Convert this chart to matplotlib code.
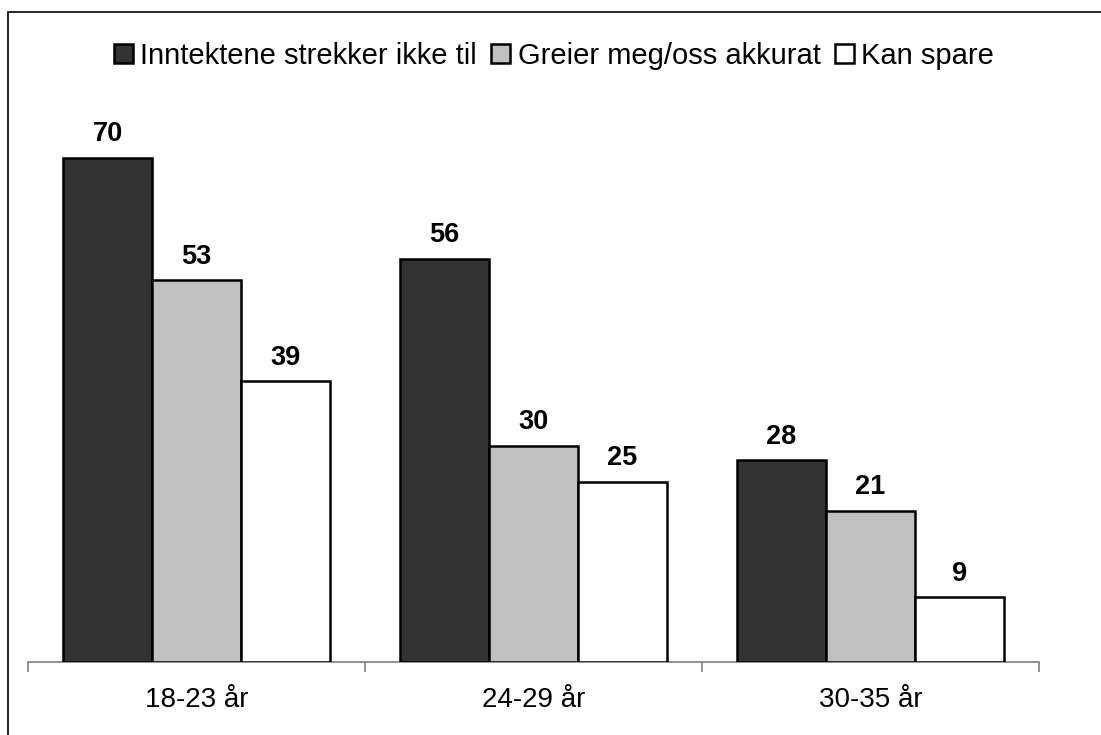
import numpy as np
import matplotlib.pyplot as plt
from matplotlib.patches import Rectangle, Patch

# =========================================================
# DATA
# =========================================================
GROUPS = ["18-23 år", "24-29 år", "30-35 år"]
SERIES = ["Inntektene strekker ikke til", "Greier meg/oss akkurat", "Kan spare"]
VALUES = {
    "Inntektene strekker ikke til": [70, 56, 28],
    "Greier meg/oss akkurat": [53, 30, 21],
    "Kan spare": [39, 25, 9],
}
COLORS = ["#333333", "#C0C0C0", "#FFFFFF"]

plt.rcParams["font.family"] = ["Liberation Sans", "DejaVu Sans"]

# =========================================================
# PLOT
# =========================================================
fig = plt.figure(figsize=(11.01, 7.35), dpi=100)
W, H = 1101, 735
ax = fig.add_axes([28 / W, (H - 662) / H, (1039 - 28) / W, (662 - 110) / H])

x = np.arange(len(GROUPS))
bw = 0.264
for i, name in enumerate(SERIES):
    pos = x + (i - 1) * bw
    bars = ax.bar(pos, VALUES[name], width=bw, color=COLORS[i],
                  edgecolor="black", linewidth=1.8, zorder=3)
    for b, v in zip(bars, VALUES[name]):
        ax.text(b.get_x() + b.get_width() / 2, v + 2.3, str(v),
                ha="center", va="baseline", fontsize=19.5, fontweight="bold")

ax.set_xlim(-0.5, len(GROUPS) - 0.5)
ax.set_ylim(0, (662 - 110) / 7.2)

for s in ["top", "right", "left"]:
    ax.spines[s].set_visible(False)
ax.spines["bottom"].set_color("#808080")
ax.spines["bottom"].set_linewidth(1.2)
ax.set_yticks([])

ax.set_xticks(x)
ax.set_xticklabels(GROUPS, fontsize=20)
ax.tick_params(axis="x", which="major", length=0, pad=18)
ax.set_xticks(np.arange(len(GROUPS) + 1) - 0.5, minor=True)
ax.tick_params(axis="x", which="minor", length=7, width=1.2, color="#808080")

handles = [Patch(facecolor=c, edgecolor="black", linewidth=1.8) for c in COLORS]
fig.legend(handles, SERIES, loc="center", bbox_to_anchor=(554 / W, 1 - 56 / H),
           ncol=3, frameon=False, fontsize=21, handlelength=0.65, handleheight=0.65,
           handletextpad=0.25, columnspacing=0.5)

# outer border (top and left visible)
fig.patches.append(Rectangle((8 / W, -0.1), 1.2, (H - 12) / H + 0.1,
                             transform=fig.transFigure, fill=False,
                             edgecolor="black", linewidth=1.2))

plt.savefig("out.png", dpi=100)
plt.close()
